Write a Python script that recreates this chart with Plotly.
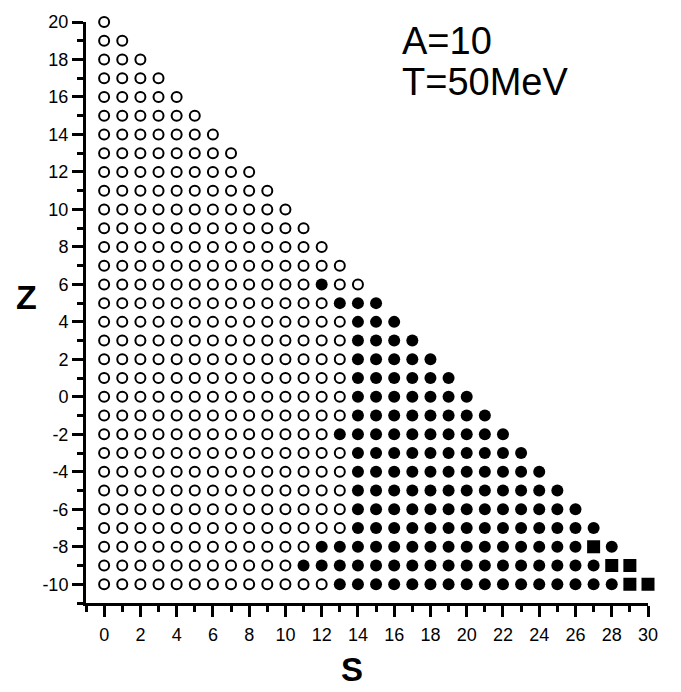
import plotly.graph_objects as go

# Rows of the (S, Z) grid: each row Z runs from S=0 up to s_max
z_rows = [20, 19, 18, 17, 16, 15, 14, 13, 12, 11, 10, 9, 8, 7, 6, 5, 4, 3, 2, 1, 0,
          -1, -2, -3, -4, -5, -6, -7, -8, -9, -10]
s_max = [0, 1, 2, 3, 4, 5, 6, 7, 8, 9, 10, 11, 12, 13, 14, 15, 16, 17, 18, 19, 20,
         21, 22, 23, 24, 25, 26, 27, 28, 29, 30]
# filled-circle span in each row (None = no filled circles)
fill_start = [None, None, None, None, None, None, None, None, None, None, None, None, None, None,
              12, 13, 14, 14, 14, 14, 14, 14, 13, 14, 14, 14, 14, 14, 12, 11, 13]
fill_end = [None, None, None, None, None, None, None, None, None, None, None, None, None, None,
            12, 15, 16, 17, 18, 19, 20, 21, 22, 23, 24, 25, 26, 27, 28, 29, 30]
# filled squares
square_s = [27, 28, 29, 29, 30]
square_z = [-8, -9, -9, -10, -10]

# tick labels
x_tickvals = [0, 2, 4, 6, 8, 10, 12, 14, 16, 18, 20, 22, 24, 26, 28, 30]
x_ticktext = ["0", "2", "4", "6", "8", "10", "12", "14", "16", "18", "20", "22", "24", "26", "28", "30"]
y_tickvals = [-10, -8, -6, -4, -2, 0, 2, 4, 6, 8, 10, 12, 14, 16, 18, 20]
y_ticktext = ["-10", "-8", "-6", "-4", "-2", "0", "2", "4", "6", "8", "10", "12", "14", "16", "18", "20"]

sq = set(zip(square_s, square_z))
open_s, open_z, fill_s, fill_z = [], [], [], []
for z, smax, fs, fe in zip(z_rows, s_max, fill_start, fill_end):
    for s in range(0, smax + 1):
        if (s, z) in sq:
            continue
        if fs is not None and fs <= s <= fe:
            fill_s.append(s); fill_z.append(z)
        else:
            open_s.append(s); open_z.append(z)

FONT = "Liberation Sans, Arial, Helvetica, sans-serif"

fig = go.Figure()
fig.add_trace(go.Scatter(x=open_s, y=open_z, mode="markers", cliponaxis=False,
                         marker=dict(symbol="circle-open", size=10, color="black",
                                     line=dict(width=2, color="black"))))
fig.add_trace(go.Scatter(x=fill_s, y=fill_z, mode="markers", cliponaxis=False,
                         marker=dict(symbol="circle", size=12, color="black",
                                     line=dict(width=0))))
fig.add_trace(go.Scatter(x=square_s, y=square_z, mode="markers", cliponaxis=False,
                         marker=dict(symbol="square", size=13, color="black",
                                     line=dict(width=0))))

axis_common = dict(showgrid=False, zeroline=False, showline=True, linecolor="black",
                   linewidth=3, ticks="outside", ticklen=11, tickwidth=2.5, tickcolor="black",
                   tickfont=dict(family=FONT, size=18, color="black"),
                   minor=dict(ticks="outside", ticklen=6, tickwidth=2.5, tickcolor="black", dtick=1))

fig.update_xaxes(range=[-1, 30], tickvals=x_tickvals, ticktext=x_ticktext,
                 ticklabelstandoff=2, **axis_common)
fig.update_yaxes(range=[-11, 20], tickvals=y_tickvals, ticktext=y_ticktext,
                 ticklabelstandoff=0, **axis_common)
fig.update_xaxes(minor=dict(tick0=0))
fig.update_yaxes(minor=dict(tick0=0))

fig.update_layout(
    width=681, height=692, showlegend=False,
    margin=dict(l=86, r=33, t=17, b=89),
    plot_bgcolor="white", paper_bgcolor="white",
    annotations=[
        dict(text="A=10", xref="paper", yref="paper", x=(400 - 86) / 562, y=(603 - 36) / 586,
             xanchor="left", yanchor="middle", showarrow=False,
             font=dict(family=FONT, size=38, color="black")),
        dict(text="T=50MeV", xref="paper", yref="paper", x=(400 - 86) / 562, y=(603 - 78) / 586,
             xanchor="left", yanchor="middle", showarrow=False,
             font=dict(family=FONT, size=38, color="black")),
        dict(text="<b>Z</b>", xref="paper", yref="paper", x=(26 - 86) / 562, y=(603 - 294) / 586,
             xanchor="center", yanchor="middle", showarrow=False,
             font=dict(family=FONT, size=34, color="black")),
        dict(text="<b>S</b>", xref="paper", yref="paper", x=(352 - 86) / 562, y=(603 - 670) / 586,
             xanchor="center", yanchor="middle", showarrow=False,
             font=dict(family=FONT, size=33, color="black")),
    ],
)

fig.write_html("out.html")
